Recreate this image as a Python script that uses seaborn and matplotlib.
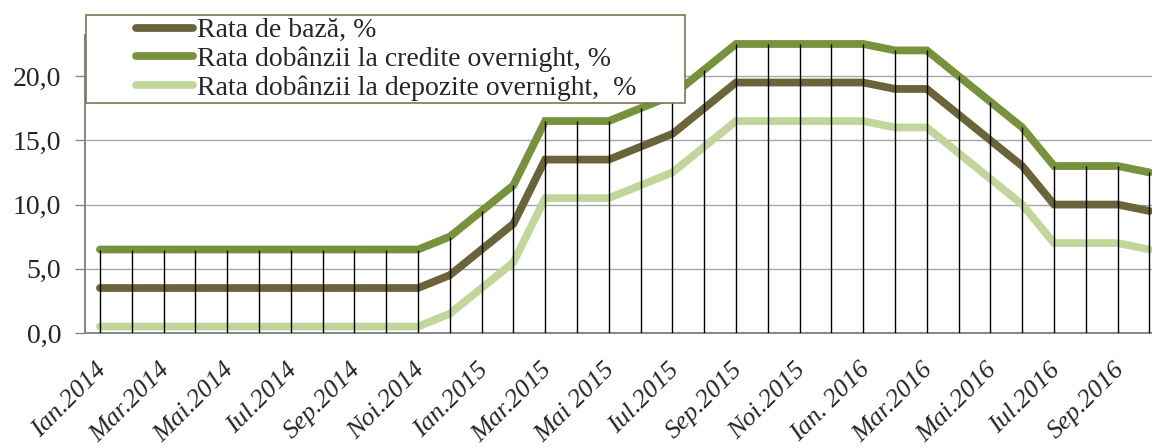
import numpy as np
import pandas as pd
import matplotlib
matplotlib.use("Agg")
import matplotlib.pyplot as plt
import matplotlib.transforms as mtransforms
from matplotlib.lines import Line2D
from matplotlib.patches import Rectangle
import seaborn as sns

# ---------------- data ----------------
months = ["Ian.2014", "Feb.2014", "Mar.2014", "Apr.2014", "Mai.2014", "Iun.2014",
          "Iul.2014", "Aug.2014", "Sep.2014", "Oct.2014", "Noi.2014", "Dec.2014",
          "Ian.2015", "Feb.2015", "Mar.2015", "Apr.2015", "Mai 2015", "Iun.2015",
          "Iul.2015", "Aug.2015", "Sep.2015", "Oct.2015", "Noi.2015", "Dec.2015",
          "Ian. 2016", "Feb.2016", "Mar.2016", "Apr.2016", "Mai.2016", "Iun.2016",
          "Iul.2016", "Aug.2016", "Sep.2016", "Oct.2016"]

tick_labels = ["Ian.2014", "Mar.2014", "Mai.2014", "Iul.2014", "Sep.2014", "Noi.2014",
               "Ian.2015", "Mar.2015", "Mai 2015", "Iul.2015", "Sep.2015", "Noi.2015",
               "Ian. 2016", "Mar.2016", "Mai.2016", "Iul.2016", "Sep.2016"]

rata_baza = [3.5, 3.5, 3.5, 3.5, 3.5, 3.5, 3.5, 3.5, 3.5, 3.5, 3.5, 4.5,
             6.5, 8.5, 13.5, 13.5, 13.5, 14.5, 15.5, 17.5, 19.5, 19.5, 19.5, 19.5,
             19.5, 19.0, 19.0, 17.0, 15.0, 13.0, 10.0, 10.0, 10.0, 9.5]

rata_credite = [6.5, 6.5, 6.5, 6.5, 6.5, 6.5, 6.5, 6.5, 6.5, 6.5, 6.5, 7.5,
                9.5, 11.5, 16.5, 16.5, 16.5, 17.5, 18.5, 20.5, 22.5, 22.5, 22.5, 22.5,
                22.5, 22.0, 22.0, 20.0, 18.0, 16.0, 13.0, 13.0, 13.0, 12.5]

rata_depozite = [0.5, 0.5, 0.5, 0.5, 0.5, 0.5, 0.5, 0.5, 0.5, 0.5, 0.5, 1.5,
                 3.5, 5.5, 10.5, 10.5, 10.5, 11.5, 12.5, 14.5, 16.5, 16.5, 16.5, 16.5,
                 16.5, 16.0, 16.0, 14.0, 12.0, 10.0, 7.0, 7.0, 7.0, 6.5]

series_names = ["Rata de bază, %",
                "Rata dobânzii la credite overnight, %",
                "Rata dobânzii la depozite overnight,  %"]
colors = ["#6B6339", "#76923C", "#C2D69B"]

y_ticks = [0, 5, 10, 15, 20]

# ---------------- figure ----------------
sns.set_theme(style="white")
plt.rcParams["font.family"] = ["Liberation Serif", "DejaVu Serif"]

W, H = 1152, 448
fig = plt.figure(figsize=(W / 100, H / 100), dpi=100)
ax = fig.add_axes([85 / W, 1 - 333 / H, (W - 85) / W, (333 - 35) / H])

x = np.arange(len(months))
df = pd.DataFrame({
    "x": np.concatenate([x, x, x]),
    "value": rata_baza + rata_credite + rata_depozite,
    "series": [series_names[0]] * len(x) + [series_names[1]] * len(x) + [series_names[2]] * len(x),
})

sns.lineplot(data=df, x="x", y="value", hue="series", hue_order=series_names,
             palette=colors, linewidth=5.6, legend=False, ax=ax, zorder=3)
for ln in ax.lines:
    ln.set_solid_capstyle("round")
    ln.set_solid_joinstyle("miter")

# drop lines
ax.vlines(x, 0, rata_credite, colors="black", linewidth=1.0, zorder=4)

ax.set_xlim(-0.47, 33.08)
ax.set_ylim(0, 23.2)
ax.set_yticks(y_ticks)
ax.set_yticklabels([f"{v:.1f}".replace(".", ",") for v in y_ticks], fontsize=20)
ax.yaxis.grid(True, color="#A6A6A6", linewidth=1.0)
ax.xaxis.grid(False)
ax.set_axisbelow(True)

ax.set_xticks(x[::2])
ax.set_xticklabels(tick_labels, rotation=45, ha="right", va="center",
                   rotation_mode="anchor", fontstyle="italic", fontsize=19)
ax.tick_params(axis="x", length=0, pad=24)
ax.tick_params(axis="y", length=7, width=1, color="#868686", pad=10, left=True)
offset = mtransforms.ScaledTranslation(3 / 100, 0, fig.dpi_scale_trans)
for lab in ax.get_xticklabels():
    lab.set_transform(lab.get_transform() + offset)

for s in ["top", "right"]:
    ax.spines[s].set_visible(False)
for s in ["left", "bottom"]:
    ax.spines[s].set_color("#868686")
    ax.spines[s].set_linewidth(1.4)
ax.set_xlabel("")
ax.set_ylabel("")

# legend box
rect = Rectangle((86 / W, 1 - 103.3 / H), (685 - 86) / W, (103.3 - 14.7) / H,
                 transform=fig.transFigure, facecolor="white", edgecolor="#7F7656",
                 linewidth=1.2, zorder=10)
fig.add_artist(rect)

handles = [Line2D([0], [0], color=c, linewidth=5.6, solid_capstyle="round") for c in colors]
leg = fig.legend(handles, series_names, loc="center left",
                 bbox_to_anchor=(136 / W, 1 - 59.5 / H), bbox_transform=fig.transFigure,
                 frameon=False, borderpad=0, borderaxespad=0, handlelength=2.05,
                 handletextpad=0.15, labelspacing=0.12, fontsize=20)
leg.set_zorder(11)

fig.savefig("out.png", dpi=100)
